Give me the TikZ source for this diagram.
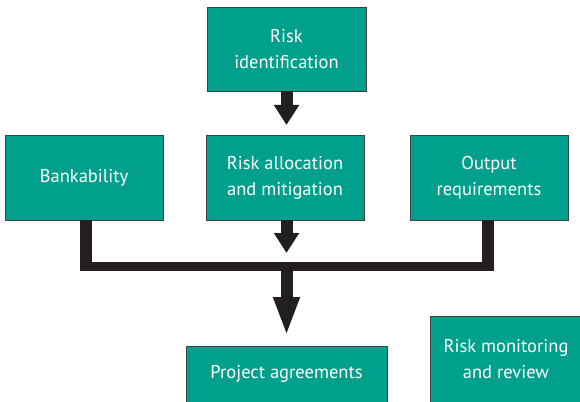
\documentclass[tikz,border=0pt]{standalone}
\usepackage{fontspec}
\setmainfont{PT Sans}
\usetikzlibrary{arrows.meta}
\definecolor{teal1}{HTML}{00A08C}
\definecolor{arrowc}{HTML}{231F20}
\begin{document}
\begin{tikzpicture}[x=1pt,y=-1pt,
  box/.style={draw=black!75, line width=0.8pt, fill=teal1, text=white,
    inner sep=0pt, align=center, font=\fontsize{18.5}{26}\selectfont},
  bar/.style={draw=arrowc, line width=12pt},
  hbar/.style={draw=arrowc, line width=9pt},
  headS/.style={-{Triangle[length=20pt,width=24pt]}},
  headL/.style={-{Triangle[length=39pt,width=24pt]}}]
\useasboundingbox (0,0) rectangle (580,401);
\begin{scope}
\clip (0,0) rectangle (580,401);
\node[box, minimum width=159pt, minimum height=84pt] (ident) at (286.5,49) {Risk\\identification};
\node[box, minimum width=158pt, minimum height=85pt] (bank) at (84,177.5) {Bankability};
\node[box, minimum width=158pt, minimum height=85pt] (alloc) at (285,177.5) {Risk allocation\\and mitigation};
\node[box, minimum width=158pt, minimum height=85pt] (output) at (489,177.5) {Output\\requirements};
\node[box, minimum width=201pt, minimum height=56pt] (proj) at (286.5,374) {Project agreements};
\node[box, minimum width=152pt, minimum height=86pt] (monit) at (506,359) {Risk monitoring\\and review};
\end{scope}
\coordinate (t1) at (286.5,125);
\coordinate (t2) at (286.5,253);
\coordinate (j) at (286.5,266.5);
\coordinate (t3) at (286.5,336);
\coordinate (cl) at (86,271);
\coordinate (cr) at (487.5,271);
\draw[bar, headS] (ident.south -| t1) -- (t1);
\draw[bar, headS] (alloc.south -| t2) -- (t2);
\draw[bar] (bank.south -| cl) -- (cl);
\draw[bar] (output.south -| cr) -- (cr);
\draw[hbar] ([xshift=-6pt]cl |- j) -- ([xshift=6pt]cr |- j);
\draw[bar, headL] (j) -- (t3);
\end{tikzpicture}
\end{document}
